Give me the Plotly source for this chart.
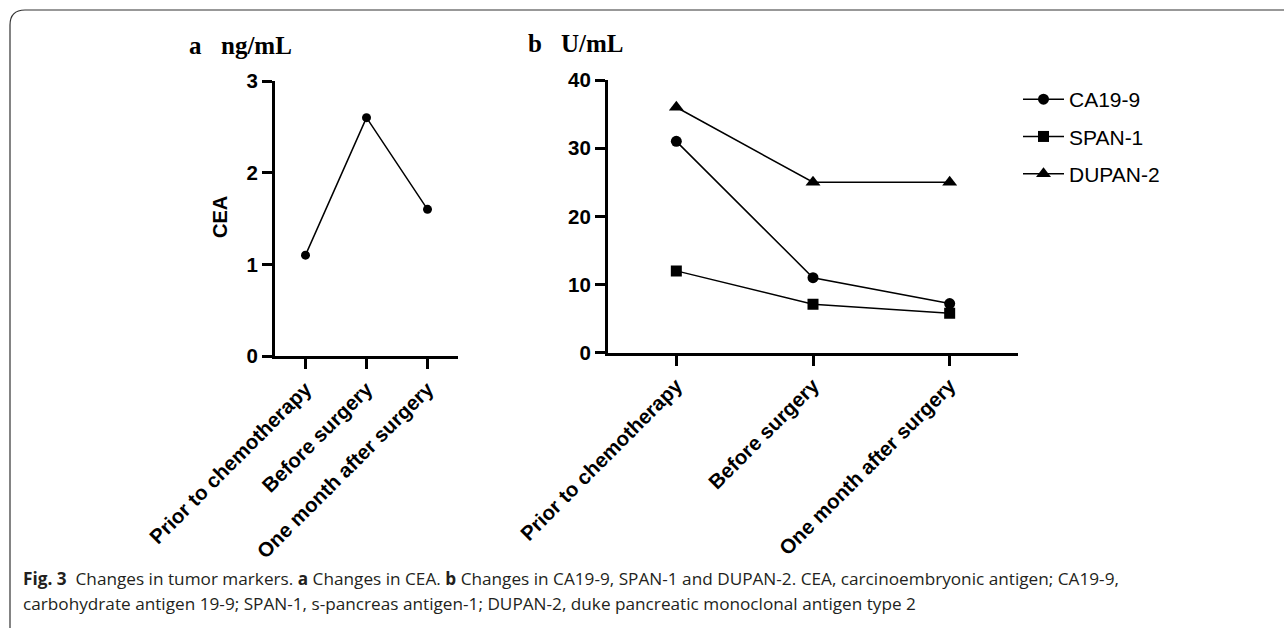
import plotly.graph_objects as go

W, H = 1284, 628

categories = ["Prior to chemotherapy", "Before surgery", "One month after surgery"]
cea = [1.1, 2.6, 1.6]
ca199 = [31, 11, 7.2]
span1 = [12, 7.1, 5.8]
dupan2 = [36, 25, 25]

a_ticks = [0, 1, 2, 3]
b_ticks = [0, 10, 20, 30, 40]

caption1 = ("<b>Fig. 3</b>\u00a0\u00a0Changes in tumor markers. <b>a</b> Changes in CEA. "
            "<b>b</b> Changes in CA19-9, SPAN-1 and DUPAN-2. CEA, carcinoembryonic antigen; CA19-9,")
caption2 = ("carbohydrate antigen 19-9; SPAN-1, s-pancreas antigen-1; DUPAN-2, "
            "duke pancreatic monoclonal antigen type 2")

def px(x):
    return x / W

def py(y):
    return 1 - y / H

SANS = "Liberation Sans, Arial, sans-serif"
SERIF = "Liberation Serif, Times New Roman, serif"
CAP = "Open Sans, Noto Sans, sans-serif"

fig = go.Figure()

fig.add_trace(go.Scatter(
    x=categories, y=cea, mode="lines+markers", xaxis="x", yaxis="y",
    line=dict(color="black", width=1.5),
    marker=dict(symbol="circle", size=9, color="black"),
    showlegend=False, name="CEA"))

series = [("CA19-9", ca199, "circle", 11), ("SPAN-1", span1, "square", 11),
          ("DUPAN-2", dupan2, "triangle-up", 13)]
for name, vals, sym, sz in series:
    fig.add_trace(go.Scatter(
        x=categories, y=vals, mode="lines+markers", xaxis="x2", yaxis="y2",
        line=dict(color="black", width=1.5),
        marker=dict(symbol=sym, size=sz, color="black"),
        name=name, legendgroup=name))

def axis_common(fs):
    return dict(showline=True, linecolor="black", linewidth=3, ticks="outside",
                ticklen=10, tickwidth=2.5, tickcolor="black", showgrid=False,
                zeroline=False, automargin=False,
                tickfont=dict(family=SANS, size=fs, color="black", weight="bold"))

fig.update_layout(
    template="none",
    width=W, height=H, margin=dict(l=0, r=0, t=0, b=0, pad=0),
    paper_bgcolor="white", plot_bgcolor="white",
    xaxis=dict(domain=[px(275), px(458)], anchor="y", type="category",
               range=[-0.5, 2.5], tickangle=-45, **axis_common(20.5)),
    yaxis=dict(domain=[py(356), py(81)], anchor="x", range=[0, 3],
               tickvals=a_ticks, **axis_common(20.5)),
    xaxis2=dict(domain=[px(608), px(1018)], anchor="y2", type="category",
                range=[-0.5, 2.5], tickangle=-45, **axis_common(20.5)),
    yaxis2=dict(domain=[py(352.7), py(80)], anchor="x2", range=[0, 40],
                tickvals=b_ticks, **axis_common(20.5)),
    legend=dict(x=px(1018), y=py(79), xanchor="left", yanchor="top",
                font=dict(family=SANS, size=21, color="black"),
                itemwidth=41, tracegroupgap=7, traceorder="grouped",
                bgcolor="rgba(0,0,0,0)", borderwidth=0),
    showlegend=True,
)

ann = []
ann.append(dict(text="a", x=px(187), y=py(46), xanchor="left", yanchor="middle",
                font=dict(family=SERIF, size=25, color="black", weight="bold")))
ann.append(dict(text="ng/mL", x=px(219), y=py(46), xanchor="left", yanchor="middle",
                font=dict(family=SERIF, size=25, color="black", weight="bold")))
ann.append(dict(text="b", x=px(526), y=py(44), xanchor="left", yanchor="middle",
                font=dict(family=SERIF, size=25, color="black", weight="bold")))
ann.append(dict(text="U/mL", x=px(559), y=py(44), xanchor="left", yanchor="middle",
                font=dict(family=SERIF, size=25, color="black", weight="bold")))
ann.append(dict(text="CEA", x=px(220), y=py(217), xanchor="center", yanchor="middle",
                textangle=-90, font=dict(family=SANS, size=20, color="black", weight="bold")))
ann.append(dict(text=caption1, x=px(21), y=py(578), xanchor="left", yanchor="middle",
                font=dict(family=CAP, size=17.2, color="#231f20")))
ann.append(dict(text=caption2, x=px(21), y=py(603), xanchor="left", yanchor="middle",
                font=dict(family=CAP, size=17.2, color="#231f20")))
for a in ann:
    a.update(xref="paper", yref="paper", showarrow=False)
fig.update_layout(annotations=ann)

# rounded frame (top and left edges)
x0, y0, r = px(10), py(10), 15
frame = (f"M {x0},{py(H + 5)} L {x0},{py(10 + r)} "
         f"Q {x0},{y0} {px(10 + r)},{y0} L {px(W + 5)},{y0}")
fig.add_shape(type="path", path=frame, xref="paper", yref="paper",
              line=dict(color="#333333", width=1.2))

fig.write_html("out.html", config={"displayModeBar": False},
               post_script="document.body.style.margin='0px';document.body.style.overflow='hidden';")
